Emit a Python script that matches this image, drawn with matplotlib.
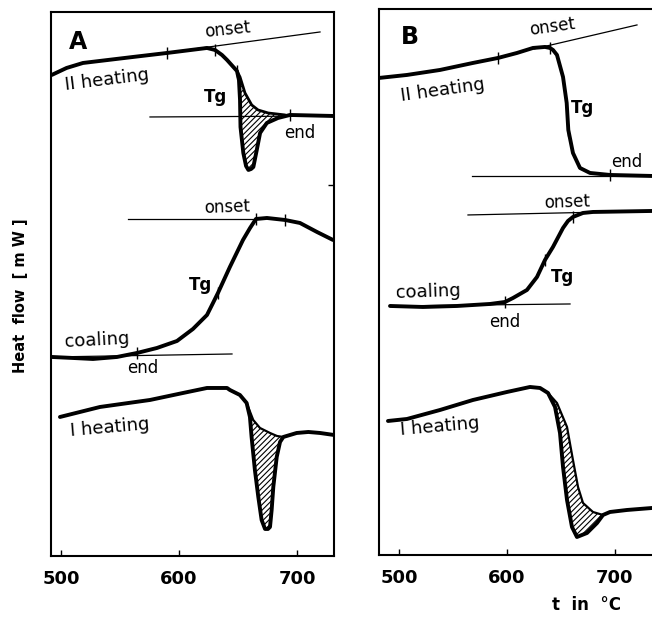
import matplotlib
matplotlib.use('Agg')
import matplotlib.pyplot as plt
import numpy as np

plt.rcParams['hatch.linewidth'] = 0.8

# ---- panel A ----
# II heating (with the dip) and the curve without dip (top of hatched area)
a_h2_t = [492.1, 504.7, 518.6, 561.0, 589.8, 623.7, 630.5, 636.4, 640.7, 649.1, 650.8, 651.7, 652.1, 654.5, 656.8, 658.8, 661.1, 663.0, 665.9, 668.7, 674.4, 683.9, 694.0, 730.5]
a_h2_q = [481, 488, 493, 499, 503, 508, 506, 501, 496, 485, 476, 456, 429, 403, 390, 386, 387, 389, 406, 423, 433, 438, 441, 440]
a_h2_in_t = [649.1, 651.7, 655.9, 661.6, 667.0, 675.5, 690.0]
a_h2_in_q = [485, 479, 463, 451, 446, 443, 441]
a_h2_ticks = [589.8, 630.5, 649.1, 694.0]
a_h2_onset_t = [600.0, 719.5]
a_h2_onset_q = [505, 524]
a_h2_base_t = [575.4, 730.5]
a_h2_base_q = [439, 440]

# cooling
a_c_t = [492.3, 510.1, 527.1, 547.4, 564.4, 581.3, 598.3, 611.8, 623.7, 628.8, 633.0, 643.1, 654.2, 660.2, 665.2, 674.5, 689.8, 702.5, 716.9, 730.5]
a_c_q = [199, 198, 197, 199, 203, 208, 215, 227, 241, 253, 263, 289, 316, 328, 337, 338, 336, 333, 324, 316]
a_c_ticks = [564.4, 633.0, 665.2, 689.8]
a_c_onset_t = [556.8, 665.2]
a_c_onset_q = [337, 337]
a_c_end_t = [492.3, 644.9]
a_c_end_q = [199, 202]

# I heating
a_h1_t = [499.1, 533.0, 575.4, 603.4, 623.7, 640.7, 643.1, 651.6, 657.3, 660.1, 661.5, 664.3, 667.2, 670.0, 672.9, 675.4, 677.1, 678.5, 679.9, 682.8, 685.6, 688.4, 699.7, 709.6, 719.5, 731.3]
a_h1_q = [139, 149, 156, 163, 168, 168, 166, 161, 153, 139, 119, 86, 59, 36, 27, 27, 29, 46, 69, 99, 114, 119, 123, 124, 123, 121]
a_h1_in_t = [657.3, 662.9, 668.6, 677.1, 683.0, 688.4]
a_h1_in_q = [153, 136, 128, 123, 120, 119]

# ---- panel B ----
b_h2_t = [481.5, 507.4, 538.0, 568.5, 591.7, 609.3, 624.1, 635.2, 639.8, 642.6, 646.3, 651.9, 655.3, 656.8, 661.1, 667.6, 676.9, 695.4, 734.3]
b_h2_q = [477, 480, 485, 492, 497, 502, 507, 508, 507, 505, 500, 478, 452, 425, 402, 387, 382, 380, 379]
b_h2_ticks = [591.7, 639.8, 656.8, 695.4]
b_h2_onset_t = [625.0, 720.4]
b_h2_onset_q = [506, 530]
b_h2_base_t = [567.6, 734.3]
b_h2_base_q = [379, 379]

b_c_t = [491.7, 522.2, 553.7, 584.3, 598.2, 605.6, 618.5, 627.8, 635.2, 642.6, 651.9, 656.5, 661.1, 670.4, 679.6, 734.3]
b_c_q = [249, 248, 249, 251, 253, 257, 265, 278, 295, 308, 327, 334, 338, 342, 343, 344]
b_c_ticks = [598.2, 635.2, 661.1]
b_c_onset_t = [563.9, 734.3]
b_c_onset_q = [340, 344]
b_c_end_t = [491.7, 658.4]
b_c_end_q = [249, 251]

b_h1_t = [489.8, 507.4, 538.0, 568.5, 600.0, 621.3, 630.6, 638.0, 644.5, 649.1, 651.9, 655.6, 660.2, 664.8, 674.1, 683.4, 688.9, 695.4, 711.1, 734.3]
b_h1_q = [134, 136, 145, 155, 163, 168, 167, 162, 148, 122, 88, 55, 28, 18, 22, 32, 40, 43, 45, 47]
b_h1_in_t = [638.0, 646.3, 655.6, 661.1, 665.8, 670.4, 679.6, 688.9]
b_h1_in_q = [162, 152, 128, 95, 68, 52, 43, 40]

xticks = [500, 600, 700]


def curve(ax, t, q, ticks=None, lw=2.8):
    ax.plot(t, q, color='k', lw=lw, solid_joinstyle='round', solid_capstyle='round')
    if ticks:
        ax.plot(ticks, np.interp(ticks, t, q), ls='none', marker='|', ms=9, mew=1.0, color='k')


def thin(ax, t, q):
    ax.plot(t, q, color='k', lw=0.9)


def hatched(ax, t, q, t_in, q_in):
    t = np.array(t)
    q = np.array(q)
    m = (t >= t_in[0]) & (t <= t_in[-1])
    px = np.concatenate([t[m], t_in[::-1]])
    py = np.concatenate([q[m], q_in[::-1]])
    ax.fill(px, py, facecolor='white', edgecolor='k', hatch='//////', lw=0)


fig = plt.figure(figsize=(6.52, 6.17), dpi=100)
axA = fig.add_axes([0.0782, 0.0989, 0.434, 0.8817])
axB = fig.add_axes([0.5813, 0.1005, 0.4187, 0.885])

for ax in (axA, axB):
    for s in ax.spines.values():
        s.set_linewidth(1.5)
    ax.set_xticks(xticks)
    ax.tick_params(axis='x', direction='in', length=4, width=1, pad=10)
    for lab in ax.get_xticklabels():
        lab.set_fontsize(13)
        lab.set_fontweight('bold')
axB.spines['right'].set_visible(False)

axA.set_xlim(491.5, 731.3)
axA.set_ylim(0, 544)
axB.set_xlim(481.5, 734.3)
axB.set_ylim(0, 546)

axA.set_yticks([371])
axA.tick_params(axis='y', left=False, right=True, labelleft=False, direction='in', length=4, width=1)
axB.set_yticks([])

# panel A
hatched(axA, a_h2_t, a_h2_q, a_h2_in_t, a_h2_in_q)
hatched(axA, a_h1_t, a_h1_q, a_h1_in_t, a_h1_in_q)
thin(axA, a_h2_onset_t, a_h2_onset_q)
thin(axA, a_h2_base_t, a_h2_base_q)
thin(axA, a_c_onset_t, a_c_onset_q)
thin(axA, a_c_end_t, a_c_end_q)
curve(axA, a_h2_t, a_h2_q, a_h2_ticks)
curve(axA, a_h2_in_t, a_h2_in_q, lw=2.0)
curve(axA, a_c_t, a_c_q, a_c_ticks)
curve(axA, a_h1_t, a_h1_q)
curve(axA, a_h1_in_t, a_h1_in_q, lw=1.6)

# panel B
hatched(axB, b_h1_t, b_h1_q, b_h1_in_t, b_h1_in_q)
thin(axB, b_h2_onset_t, b_h2_onset_q)
thin(axB, b_h2_base_t, b_h2_base_q)
thin(axB, b_c_onset_t, b_c_onset_q)
thin(axB, b_c_end_t, b_c_end_q)
curve(axB, b_h2_t, b_h2_q, b_h2_ticks)
curve(axB, b_c_t, b_c_q, b_c_ticks)
curve(axB, b_h1_t, b_h1_q)
curve(axB, b_h1_in_t, b_h1_in_q, lw=1.6)

fs = 12
fl = 13
# labels A
axA.text(514, 514, 'A', fontsize=17, fontweight='bold', ha='center', va='center')
axA.text(640.7, 526, 'onset', fontsize=fs, ha='center', va='center', rotation=6)
axA.text(539, 476, 'II heating', fontsize=fl, ha='center', va='center', rotation=7)
axA.text(630.5, 459, 'Tg', fontsize=fs, fontweight='bold', ha='center', va='center')
axA.text(702, 423, 'end', fontsize=fs, ha='center', va='center')
axA.text(640.7, 349, 'onset', fontsize=fs, ha='center', va='center', rotation=2)
axA.text(618, 271, 'Tg', fontsize=fs, fontweight='bold', ha='center', va='center')
axA.text(530.5, 216, 'coaling', fontsize=fl, ha='center', va='center', rotation=3)
axA.text(569.5, 188, 'end', fontsize=fs, ha='center', va='center')
axA.text(541.5, 128, 'I heating', fontsize=fl, ha='center', va='center', rotation=5)

# labels B
axB.text(510, 518, 'B', fontsize=17, fontweight='bold', ha='center', va='center')
axB.text(641.7, 528, 'onset', fontsize=fs, ha='center', va='center', rotation=8)
axB.text(540.8, 465, 'II heating', fontsize=fl, ha='center', va='center', rotation=8)
axB.text(669.5, 447, 'Tg', fontsize=fs, fontweight='bold', ha='center', va='center')
axB.text(711, 393, 'end', fontsize=fs, ha='center', va='center')
axB.text(655.6, 353, 'onset', fontsize=fs, ha='center', va='center', rotation=2)
axB.text(651, 278, 'Tg', fontsize=fs, fontweight='bold', ha='center', va='center')
axB.text(527, 263, 'coaling', fontsize=fl, ha='center', va='center', rotation=2)
axB.text(598, 233, 'end', fontsize=fs, ha='center', va='center')
axB.text(538, 128, 'I heating', fontsize=fl, ha='center', va='center', rotation=5)

fig.text(0.031, 0.52, 'Heat  flow  [ m W ]', fontsize=10.5, fontweight='bold', rotation=90, ha='center', va='center')
fig.text(0.90, 0.02, 't  in  °C', fontsize=12, fontweight='bold', ha='center', va='center')

plt.savefig('out.png', dpi=100)
